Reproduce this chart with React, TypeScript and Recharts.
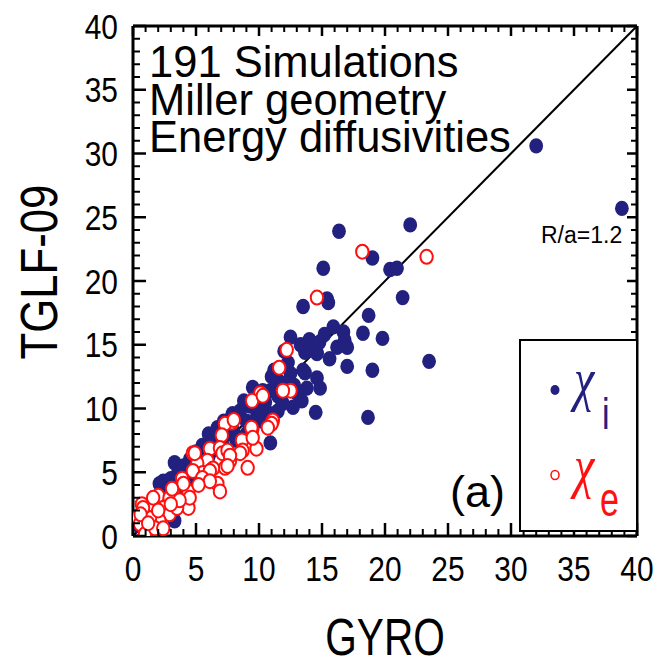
import React from 'react';
import { ScatterChart, Scatter, XAxis, YAxis, ReferenceLine } from 'recharts';

// GYRO (x) vs TGLF-09 (y) energy diffusivities
const ionPoints: [number, number][] = [
  [32.0, 30.6], [38.8, 25.7], [22.0, 24.4], [16.35, 23.9], [19.0, 21.8], [20.4, 20.9], [20.95, 21.0],
  [15.1, 21.0], [15.4, 18.6], [15.5, 18.3], [13.5, 18.0], [21.4, 18.7], [18.7, 17.3], [15.9, 16.4],
  [16.7, 16.0], [17.0, 14.8], [18.25, 15.9], [19.8, 15.5], [14.0, 15.4], [14.8, 15.2], [12.5, 15.6],
  [23.5, 13.7], [17.0, 13.3], [19.0, 13.0], [15.6, 13.9], [13.9, 14.6], [14.6, 14.3], [16.2, 14.8],
  [16.8, 15.35], [13.65, 12.8], [14.6, 12.4], [14.85, 11.6], [13.8, 11.6], [13.4, 10.6], [14.5, 9.7],
  [18.65, 9.3], [12.5, 12.75], [13.5, 13.0], [13.0, 11.2], [11.9, 10.4], [12.7, 10.1], [10.9, 9.6],
  [9.5, 11.65], [10.9, 11.4], [12.1, 12.0], [11.5, 12.2], [13.65, 14.4], [12.3, 13.6], [11.0, 12.5],
  [10.3, 11.4], [10.5, 10.5], [11.5, 11.0], [8.5, 9.8], [7.9, 9.6], [9.8, 9.3], [11.7, 10.8],
  [10.0, 10.0], [9.0, 9.0], [10.9, 7.3], [8.0, 8.2], [9.5, 8.5], [7.0, 8.3], [6.7, 8.5], [6.1, 7.25],
  [5.5, 7.1], [5.6, 6.9], [6.5, 7.5], [7.5, 8.0], [5.2, 5.9], [3.3, 5.75], [4.0, 5.5], [4.5, 6.0],
  [2.4, 4.3], [2.1, 4.1], [3.0, 4.5], [3.5, 4.8], [2.8, 3.5], [3.3, 1.2], [1.5, 2.5], [1.0, 1.5],
  [2.0, 2.8], [4.0, 4.5], [5.0, 5.3], [6.0, 6.2], [7.2, 7.0], [8.2, 7.5], [9.0, 8.0], [3.8, 3.2],
  [4.8, 4.2], [11.2, 13.0], [12.0, 14.5], [13.3, 15.0], [15.2, 15.8], [14.6, 14.4], [12.8, 11.8],
  [11.5, 9.8], [10.3, 9.0], [9.3, 10.2], [8.8, 10.6], [7.2, 9.0], [6.3, 6.7], [0.5, 0.8], [1.8, 1.7],
  [2.6, 2.4], [6.0, 8.0], [7.8, 9.3], [5.0, 6.6],
];

const elecPoints: [number, number][] = [
  [18.2, 22.3], [23.3, 21.9], [14.6, 18.7], [12.2, 14.6], [11.6, 13.2], [12.5, 11.4], [11.9, 11.4],
  [10.1, 11.2], [9.45, 10.6], [10.3, 11.0], [11.1, 9.05], [7.85, 8.9], [7.3, 8.8], [11.0, 8.8],
  [10.7, 8.5], [7.05, 7.9], [9.45, 8.3], [8.65, 7.5], [9.8, 6.85], [8.7, 6.7], [4.75, 6.5], [6.1, 6.85],
  [6.9, 6.9], [7.1, 6.5], [7.7, 5.9], [5.9, 5.9], [5.1, 5.7], [7.3, 5.35], [9.1, 5.35], [6.35, 5.3],
  [5.55, 4.95], [4.75, 5.1], [6.1, 5.1], [6.7, 4.1], [6.9, 3.5], [3.9, 4.5], [4.4, 3.5], [3.2, 3.5],
  [2.0, 3.15], [1.35, 2.5], [0.7, 2.5], [0.3, 1.4], [0.55, 0.95], [0.95, 0.15], [2.4, 2.2], [2.9, 1.7],
  [2.1, 1.2], [1.35, 1.4], [1.75, 0.6], [5.5, 4.55], [6.1, 4.3], [4.4, 2.2], [2.9, 3.0], [8.0, 9.1],
  [9.4, 8.5], [9.5, 7.7], [8.5, 6.5], [7.5, 6.7], [7.7, 6.3], [7.5, 5.5], [4.0, 4.1], [4.5, 3.0],
  [3.1, 3.7], [1.6, 3.0], [0.8, 2.2], [0.6, 1.7], [3.5, 2.2], [2.4, 0.6], [3.7, 2.8], [4.9, 6.5],
  [5.2, 4.0], [3.0, 2.5], [1.2, 1.0], [2.0, 2.0],
];

const axisTicks: number[] = Array.from({ length: 41 }, (_, i) => i);
const majorStep = 5;
const axisDomain: [number, number] = [0, 40];
const diagonal = [{ x: 0, y: 0 }, { x: 40, y: 40 }];

const annotations = ['191 Simulations', 'Miller geometry', 'Energy diffusivities'];
const xTitle = 'GYRO';
const yTitle = 'TGLF-09';

const ionColor = '#23217f';
const elecColor = '#ff1010';
const FONT = '"Liberation Sans", Arial, Helvetica, sans-serif';

const W = 646;
const H = 650;

const ionData = ionPoints.map(([x, y]) => ({ x, y }));
const elecData = elecPoints.map(([x, y]) => ({ x, y }));

const makeTick = (side: 'bottom' | 'left' | 'top' | 'right') => (props: any) => {
  const { x, y, payload } = props;
  const v = payload.value;
  const major = v % majorStep === 0;
  const inner = side === 'bottom' || side === 'left';
  const len = major ? (inner ? 13 : 10) : (inner ? 7 : 6);
  const sw = major ? 2.5 : 2;
  let line;
  if (side === 'bottom') line = <line x1={x} y1={y} x2={x} y2={y - len} stroke="#000" strokeWidth={sw} />;
  else if (side === 'top') line = <line x1={x} y1={y} x2={x} y2={y + len} stroke="#000" strokeWidth={sw} />;
  else if (side === 'left') line = <line x1={x} y1={y} x2={x + len} y2={y} stroke="#000" strokeWidth={sw} />;
  else line = <line x1={x} y1={y} x2={x - len} y2={y} stroke="#000" strokeWidth={sw} />;
  let label = null;
  if (major && side === 'bottom') {
    label = (
      <text transform={`translate(${x},${y + 45}) scale(0.88,1.05)`} textAnchor="middle" fontSize={34} fontFamily={FONT} fill="#000">
        {v}
      </text>
    );
  } else if (major && side === 'left') {
    label = (
      <text transform={`translate(${x - 15},${y + 12.5}) scale(0.88,1.05)`} textAnchor="end" fontSize={34} fontFamily={FONT} fill="#000">
        {v}
      </text>
    );
  }
  return (
    <g>
      {line}
      {label}
    </g>
  );
};

const ionShape = (p: any) => <ellipse cx={p.cx} cy={p.cy} rx={6.9} ry={7.7} fill={ionColor} />;
const elecShape = (p: any) => (
  <ellipse cx={p.cx} cy={p.cy} rx={6.2} ry={7.0} fill="#fff" stroke={elecColor} strokeWidth={2} />
);

export default function App() {
  return (
    <div style={{ position: 'relative', width: W, height: H }}>
      <ScatterChart width={W} height={H} margin={{ top: 8, right: 7, bottom: 62, left: 65 }} style={{ overflow: 'visible' }}>
        <XAxis
          xAxisId="b"
          type="number"
          dataKey="x"
          domain={axisDomain}
          ticks={axisTicks}
          interval={0}
          allowDataOverflow
          height={60}
          tickSize={0}
          tickMargin={0}
          tickLine={false}
          axisLine={{ stroke: '#000', strokeWidth: 3 }}
          tick={makeTick('bottom')}
        />
        <XAxis
          xAxisId="t"
          orientation="top"
          type="number"
          dataKey="x"
          domain={axisDomain}
          ticks={axisTicks}
          interval={0}
          allowDataOverflow
          height={10}
          tickSize={0}
          tickMargin={0}
          tickLine={false}
          axisLine={{ stroke: '#000', strokeWidth: 3 }}
          tick={makeTick('top')}
        />
        <YAxis
          yAxisId="l"
          type="number"
          dataKey="y"
          domain={axisDomain}
          ticks={axisTicks}
          interval={0}
          allowDataOverflow
          width={60}
          tickSize={0}
          tickMargin={0}
          tickLine={false}
          axisLine={{ stroke: '#000', strokeWidth: 3 }}
          tick={makeTick('left')}
        />
        <YAxis
          yAxisId="r"
          orientation="right"
          type="number"
          dataKey="y"
          domain={axisDomain}
          ticks={axisTicks}
          interval={0}
          allowDataOverflow
          width={10}
          tickSize={0}
          tickMargin={0}
          tickLine={false}
          axisLine={{ stroke: '#000', strokeWidth: 3 }}
          tick={makeTick('right')}
        />
        <ReferenceLine xAxisId="b" yAxisId="l" segment={diagonal} stroke="#000" strokeWidth={2} ifOverflow="visible" />
        <Scatter xAxisId="b" yAxisId="l" data={ionData} shape={ionShape} isAnimationActive={false} />
        <Scatter xAxisId="b" yAxisId="l" data={elecData} shape={elecShape} isAnimationActive={false} />
      </ScatterChart>
      <svg
        width={W}
        height={H}
        style={{ position: 'absolute', left: 0, top: 0, pointerEvents: 'none', overflow: 'visible' }}
      >
        {annotations.map((t, i) => (
          <text key={t} x={141} y={69 + i * 37.5} fontSize={43.5} fontFamily={FONT} fill="#000">
            {t}
          </text>
        ))}
        <text x={533} y={235} fontSize={23} fontFamily={FONT} fill="#000">R/a=1.2</text>
        <text x={442} y={499} fontSize={45} fontFamily={FONT} fill="#000">(a)</text>
        <text transform="translate(49,264) rotate(-90) scale(0.84,1)" textAnchor="middle" fontSize={52} fontFamily={FONT} fill="#000">
          {yTitle}
        </text>
        <text transform="translate(377,647) scale(0.78,1)" textAnchor="middle" fontSize={52} fontFamily={FONT} fill="#000">
          {xTitle}
        </text>
        <rect x={512} y={332} width={117} height={191} fill="#fff" stroke="#000" strokeWidth={2} />
        <ellipse cx={547} cy={382} rx={4.5} ry={5} fill={ionColor} />
        <text transform="translate(566,391) scale(1,1.3)" fontSize={46} fontFamily='"Liberation Serif", serif' fontStyle="italic" fill={ionColor}>χ</text>
        <text transform="translate(594,421) scale(1,1.3)" fontSize={34} fontFamily={FONT} fill={ionColor}>i</text>
        <ellipse cx={547} cy={467} rx={4} ry={4.5} fill="#fff" stroke={elecColor} strokeWidth={1.5} />
        <text transform="translate(566,478) scale(1,1.3)" fontSize={46} fontFamily='"Liberation Serif", serif' fontStyle="italic" fill={elecColor}>χ</text>
        <text transform="translate(592,508) scale(1,1.4)" fontSize={34} fontFamily={FONT} fill={elecColor}>e</text>
      </svg>
    </div>
  );
}
